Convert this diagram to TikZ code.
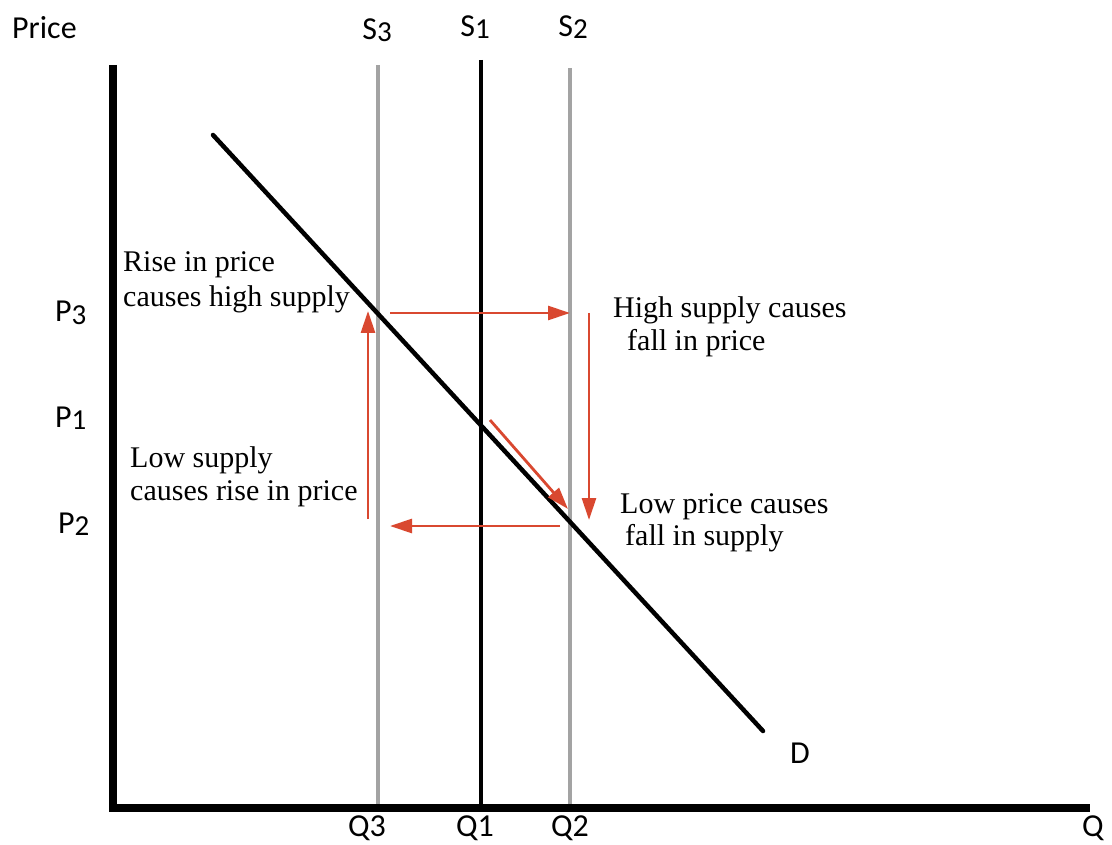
\documentclass[tikz,border=0pt]{standalone}
\usepackage{fontspec}
\setmainfont{Liberation Serif}
\newfontfamily\labelfont{Carlito}
\usetikzlibrary{arrows.meta}

\definecolor{arrowred}{RGB}{217,72,48}
\definecolor{shiftgray}{RGB}{163,163,163}

\tikzset{
  axisline/.style={line width=8.5pt, line join=miter},
  supplyline/.style={line width=4.5pt},
  note/.style={anchor=base west, inner sep=0pt, font=\fontsize{30}{35}\selectfont},
  tag/.style={inner sep=0pt, font=\labelfont\fontsize{32}{38}\selectfont},
  move/.style={arrowred, line width=2.8pt, -{Triangle[length=22pt,width=14pt]}},
}
\newcommand{\sublabel}[2]{#1{\fontsize{29}{30}\selectfont\raisebox{-2pt}{#2}}}

\begin{document}
\begin{tikzpicture}[x=1pt,y=-1pt]
\useasboundingbox (0,0) rectangle (1112,845);

% axes and curves
\coordinate (origin) at (113,808);
\coordinate (ytop) at (113,65);
\coordinate (xend) at (1090,808);
\coordinate (s3top) at (378,65);
\coordinate (s3bot) at (378,808);
\coordinate (s1top) at (481,60);
\coordinate (s1bot) at (481,808);
\coordinate (s2top) at (570,68);
\coordinate (s2bot) at (570,808);
\coordinate (dtop) at (213,135);
\coordinate (dbot) at (763,731);

\draw[supplyline, shiftgray] (s3top) -- (s3bot);
\draw[supplyline, shiftgray] (s2top) -- (s2bot);
\draw[supplyline] (s1top) -- (s1bot);
\draw[supplyline, line cap=round] (dtop) -- (dbot);
\draw[axisline] (ytop) -- (origin) -- (xend);

% red arrows
\coordinate (up3s) at (390,313);
\coordinate (up3e) at (570,313);
\coordinate (dn2s) at (589,313);
\coordinate (dn2e) at (589,520);
\coordinate (lt2s) at (560,526);
\coordinate (lt2e) at (390,526);
\coordinate (up1s) at (368,519);
\coordinate (up1e) at (368,311);
\coordinate (eqs) at (490,420);
\coordinate (eqe) at (568,509);

\draw[move] (up3s) -- (up3e);
\draw[move] (dn2s) -- (dn2e);
\draw[move] (lt2s) -- (lt2e);
\draw[move] (up1s) -- (up1e);
\draw[move] (eqs) -- (eqe);

% notes
\node[note] (rise1) at (123,272) {Rise in price};
\node[note] (rise2) at (123,307) {causes high supply};
\node[note] (high1) at (613,317) {High supply causes};
\node[note] (high2) at (627,350) {fall in price};
\node[note] (low1) at (130,467) {Low supply};
\node[note] (low2) at (130,500) {causes rise in price};
\node[note] (lowp1) at (620,513) {Low price causes};
\node[note] (lowp2) at (625,545) {fall in supply};

% labels
\node[tag, anchor=base west] (price) at (12,39) {Price};
\node[tag, anchor=base] (s3lab) at (377,40) {\sublabel{S}{3}};
\node[tag, anchor=base] (s1lab) at (475,37) {\sublabel{S}{1}};
\node[tag, anchor=base] (s2lab) at (573,37) {\sublabel{S}{2}};
\node[tag, anchor=base west] (p3lab) at (55,322) {\sublabel{P}{3}};
\node[tag, anchor=base west] (p1lab) at (55,427) {\sublabel{P}{1}};
\node[tag, anchor=base west] (p2lab) at (58,533) {\sublabel{P}{2}};
\node[tag, anchor=base] (q3lab) at (367,836) {Q3};
\node[tag, anchor=base] (q1lab) at (475,836) {Q1};
\node[tag, anchor=base] (q2lab) at (570,836) {Q2};
\node[tag, anchor=base west] (qlab) at (1082,836) {Q};
\node[tag, anchor=base west] (dlab) at (790,763) {D};

\end{tikzpicture}
\end{document}
